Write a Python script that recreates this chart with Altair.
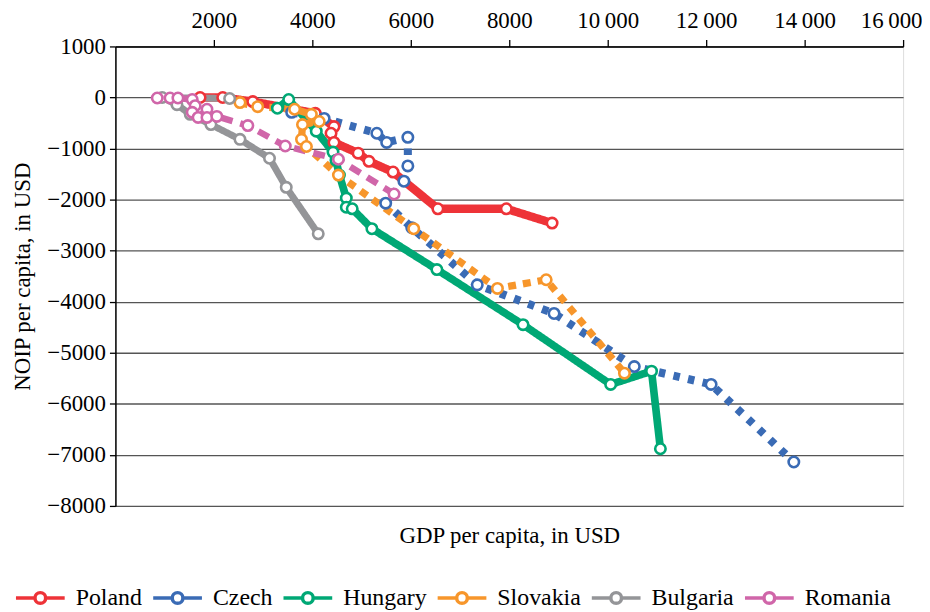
import altair as alt
import pandas as pd

countries = ["Poland", "Czech", "Hungary", "Slovakia", "Bulgaria", "Romania"]
colors = ["#EE3338", "#3A6BB5", "#00A875", "#F7962B", "#949598", "#D066A9"]
widths = [8.5, 6.5, 3.5, 5, 2.5, 2.5]
dashes = [[1, 0], [6.5, 8.5], [1, 0], [8, 7], [1, 0], [12, 8]]

poland_gdp = [1720, 2180, 2790, 4060, 4440, 4380, 4440, 4930, 5150, 5640, 6550, 7940, 8870]
poland_noip = [0, 0, -80, -310, -570, -700, -880, -1090, -1250, -1460, -2180, -2180, -2460]

czech_gdp = [3580, 4240, 5310, 5510, 5940, 5940, 5860, 5490, 6020, 7350, 8910, 10540, 12100, 13780]
czech_noip = [-290, -410, -700, -880, -780, -1340, -1640, -2070, -2550, -3670, -4230, -5270, -5620, -7140]

hungary_gdp = [3290, 3520, 4080, 4420, 4480, 4550, 4690, 4690, 4810, 5210, 6530, 8280, 10060, 10890, 11070]
hungary_noip = [-210, -40, -660, -1070, -1230, -1520, -1970, -2150, -2180, -2570, -3370, -4450, -5620, -5360, -6880]

slovakia_gdp = [2530, 2890, 3640, 3980, 4140, 3800, 3780, 3880, 4530, 6060, 7760, 8750, 10340]
slovakia_noip = [-100, -180, -230, -330, -470, -530, -820, -960, -1520, -2570, -3740, -3570, -5400]

bulgaria_gdp = [2320, 950, 1250, 1520, 1940, 2530, 3130, 3470, 4120]
bulgaria_noip = [-20, 0, -140, -330, -530, -820, -1190, -1760, -2670]

romania_gdp = [850, 1110, 1270, 1560, 1620, 1560, 1860, 1680, 1860, 2060, 2690, 3450, 4530, 5660]
romania_noip = [-10, -10, -10, -40, -160, -290, -230, -390, -390, -370, -550, -950, -1210, -1890]

series = {
    "Poland": (poland_gdp, poland_noip),
    "Czech": (czech_gdp, czech_noip),
    "Hungary": (hungary_gdp, hungary_noip),
    "Slovakia": (slovakia_gdp, slovakia_noip),
    "Bulgaria": (bulgaria_gdp, bulgaria_noip),
    "Romania": (romania_gdp, romania_noip),
}

rows = []
for c, (xs, ys) in series.items():
    for i, (xv, yv) in enumerate(zip(xs, ys)):
        rows.append({"country": c, "series": c, "idx": i, "gdp": xv, "noip": yv})
df = pd.DataFrame(rows)

FONT = "Liberation Serif"
W, H = 792, 462

legend_path = "M-1,0H-0.22M0.22,0H1M-0.22,0A0.22,0.22,0,1,1,0.22,0A0.22,0.22,0,1,1,-0.22,0"

x_top = alt.X(
    "gdp:Q",
    scale=alt.Scale(domain=[0, 16000], nice=False),
    axis=alt.Axis(
        orient="top",
        title=None,
        values=[2000, 4000, 6000, 8000, 10000, 12000, 14000, 16000],
        labelExpr="datum.value >= 10000 ? floor(datum.value/1000) + '\u2009000' : '' + datum.value",
        grid=False,
        domainColor="black",
        domainWidth=1.5,
        tickColor="black",
        tickWidth=1.3,
        tickSize=7,
        labelPadding=7,
        labelFlush=True,
        labelFlushOffset=19,
        labelFont=FONT,
        labelFontSize=23,
        labelColor="black",
    ),
)

x_bottom = alt.X(
    "gdp:Q",
    scale=alt.Scale(domain=[0, 16000], nice=False),
    axis=alt.Axis(
        orient="bottom",
        title="GDP per capita, in USD",
        labels=False,
        ticks=False,
        domain=False,
        grid=False,
        titleFont=FONT,
        titleFontSize=23,
        titleFontWeight="normal",
        titleColor="black",
        titlePadding=19,
    ),
)

y_enc = alt.Y(
    "noip:Q",
    scale=alt.Scale(domain=[-8000, 1000], nice=False),
    axis=alt.Axis(
        title="NOIP per capita, in USD",
        values=list(range(-8000, 1001, 1000)),
        labelExpr="datum.value < 0 ? '\u2212' + abs(datum.value) : '' + datum.value",
        grid=True,
        gridColor="#555555",
        gridWidth=1.3,
        domainColor="black",
        domainWidth=1.5,
        tickColor="black",
        tickWidth=1.3,
        tickSize=6,
        labelPadding=4,
        labelFont=FONT,
        labelFontSize=23,
        labelColor="black",
        titleFont=FONT,
        titleFontSize=23,
        titleFontWeight="normal",
        titleColor="black",
        titlePadding=12,
    ),
)

lines = alt.Chart(df).mark_line(strokeCap="butt", strokeJoin="round").encode(
    x=x_top,
    y=y_enc,
    color=alt.Color("series:N", scale=alt.Scale(domain=countries, range=colors), legend=None),
    strokeWidth=alt.StrokeWidth("series:N", scale=alt.Scale(domain=countries, range=widths), legend=None),
    strokeDash=alt.StrokeDash("series:N", scale=alt.Scale(domain=countries, range=dashes), legend=None),
    order="idx:Q",
)

points = alt.Chart(df).mark_point(shape="circle", filled=False, fill="white", fillOpacity=1, size=110, strokeWidth=2.6, opacity=1).encode(
    x=x_bottom,
    y=y_enc,
    color=alt.Color(
        "country:N",
        scale=alt.Scale(domain=countries, range=colors),
        sort=countries,
        legend=alt.Legend(
            orient="none",
            legendX=-102,
            legendY=528,
            direction="horizontal",
            title=None,
            symbolType=legend_path,
            symbolSize=2400,
            symbolStrokeWidth=3.5,
            symbolFillColor="white",
            labelFont=FONT,
            labelFontSize=24,
            labelColor="black",
            labelOffset=9,
            columnPadding=4,
            columns=6,
        ),
    ),
)

chart = alt.layer(lines, points).resolve_axis(x="independent").resolve_scale(color="independent").properties(
    width=W, height=H, padding={"left": 4, "top": 0, "right": 0, "bottom": 0}
).configure_view(stroke="black", strokeWidth=1.3).configure(background="white")

chart.save("out.html", embed_options={"renderer": "svg", "actions": False})
